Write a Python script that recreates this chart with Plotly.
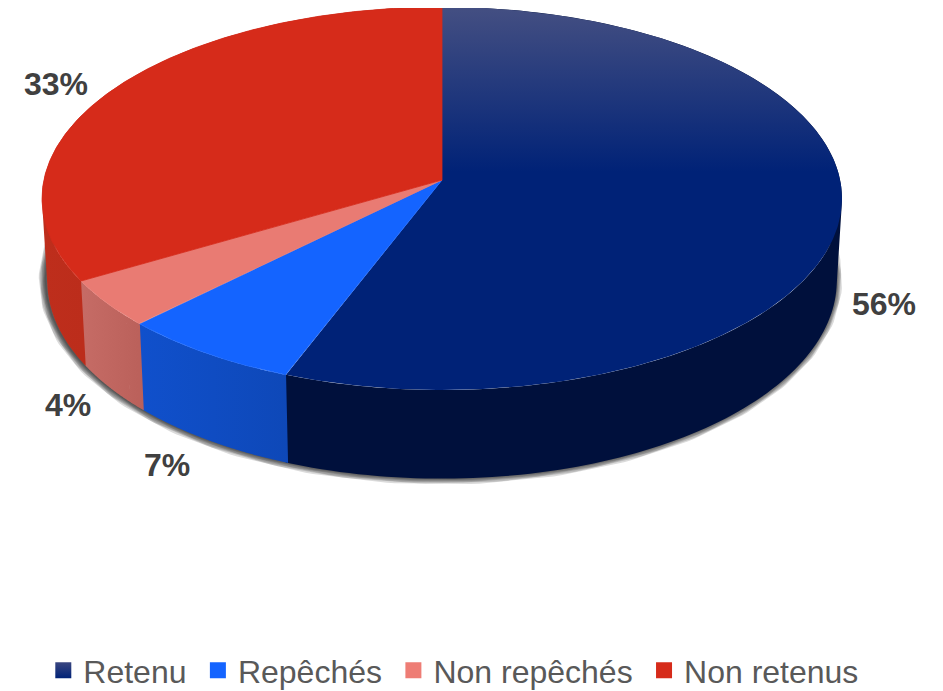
import numpy as np
import plotly.graph_objects as go

# Data
categories = ["Retenu", "Repêchés", "Non repêchés", "Non retenus"]
shares = [55.8, 6.7, 4.05, 33.45]

# Styles
top_colors = ["#002277", "#1464FF", "#E97B73", "#D62B1A"]
wall_left = ["#00103C", "#1050CC", "#C66C66", "#BE2E1C"]
wall_right = ["#00103C", "#0E48B8", "#BA605A", "#AA2414"]
legend_colors = ["#002277", "#1464FF", "#EE7D75", "#D62B1A"]
label_xy = [(884, 307), (167, 468), (68, 408), (56, 87)]

# Projection of the disc
W, H = 943, 691
PAGE_MARGIN = 8  # the page body offsets the plot by this much
CX, CY = 442, 180
K, A, B = 0.0966, 398.1, 189.7
SX, SY, BOTTOM_Y = 0.987, 1.034, 261.5


def project(theta, bottom=False):
    u, v = np.sin(theta), np.cos(theta)
    d = 1 + K * v
    X, Y = A * u / d, B * v / d
    if bottom:
        return CX + SX * X, BOTTOM_Y - SY * Y
    return CX + X, CY - Y


def swept_wall(t):
    """Area swept by the rim between two angles, as same-wound quads in one path."""
    x1, y1 = project(t)
    x2, y2 = project(t, bottom=True)
    xs, ys = [], []
    for j in range(len(t) - 1):
        qx = [x1[j], x1[j + 1], x2[j + 1], x2[j]]
        qy = [y1[j], y1[j + 1], y2[j + 1], y2[j]]
        area = sum(qx[n] * qy[(n + 1) % 4] - qx[(n + 1) % 4] * qy[n] for n in range(4))
        if area < 0:
            qx, qy = qx[::-1], qy[::-1]
        xs += qx + [qx[0], None]
        ys += qy + [qy[0], None]
    return xs, ys


fig = go.Figure()

# soft shadow under the base
circle = np.linspace(0, 2 * np.pi, 361)
sx, sy = project(circle, bottom=True)
for w in [14, 12, 10, 8, 6, 4, 2]:
    fig.add_trace(go.Scatter(x=sx - 1.5, y=sy - 1, mode="lines", showlegend=False, hoverinfo="skip",
                             line=dict(color="rgba(0,0,0,0.14)", width=w)))

edges = 2 * np.pi * np.cumsum([0] + shares) / sum(shares)

# side walls (each runs slightly under the next so no seam shows)
for i in range(len(shares)):
    t = np.linspace(edges[i], edges[i + 1] + 0.006, 160)
    xs, ys = swept_wall(t)
    fig.add_trace(go.Scatter(
        x=xs, y=ys, mode="lines", fill="toself", showlegend=False,
        hoverinfo="skip", line=dict(width=0, simplify=False),
        fillgradient=dict(type="horizontal",
                          colorscale=[[0, wall_left[i]], [1, wall_right[i]]]),
    ))

# top faces
for i in range(len(shares)):
    t = np.linspace(edges[i], edges[i + 1], 300)
    x1, y1 = project(t)
    x = np.r_[CX, x1, CX]
    y = np.r_[CY, y1, CY]
    if i == 0:
        kw = dict(line=dict(width=0),
                  fillgradient=dict(type="vertical", start=7, stop=172,
                                    colorscale=[[0, "#444F82"], [1, "#002277"]]))
    else:
        kw = dict(fillcolor=top_colors[i], line=dict(width=0.8, color=top_colors[i]))
    fig.add_trace(go.Scatter(x=x, y=y, mode="lines", fill="toself", showlegend=False,
                             hoverinfo="skip", **kw))

# labels
fig.add_trace(go.Scatter(
    x=[p[0] for p in label_xy], y=[p[1] for p in label_xy], mode="text",
    text=[f"{s:.0f}%" for s in shares], textposition="middle center", showlegend=False,
    hoverinfo="skip",
    textfont=dict(family="Liberation Sans", size=32, color="#404040", weight="bold"),
))

# legend entries (thin space widens the native gap between entries)
for i, name in enumerate(categories):
    marker = dict(symbol="square", size=17, color=legend_colors[i])
    if i == 0:
        marker["color"] = "#3A4680"
        marker["gradient"] = dict(type="vertical", color="#002277")
    fig.add_trace(go.Scatter(x=[None], y=[None], mode="markers", name=name + "\u2009", marker=marker))

fig.update_layout(
    width=W - PAGE_MARGIN, height=H - PAGE_MARGIN,
    margin=dict(l=0, r=0, t=0, b=0, autoexpand=False),
    paper_bgcolor="white", plot_bgcolor="white",
    xaxis=dict(range=[PAGE_MARGIN, W], visible=False, fixedrange=True),
    yaxis=dict(range=[H, PAGE_MARGIN], visible=False, fixedrange=True),
    legend=dict(orientation="h", x=0.48, xanchor="center", y=-0.0102, yanchor="bottom",
                font=dict(family="Liberation Sans", size=32, color="#595959"),
                itemsizing="trace", traceorder="normal", itemwidth=30, bgcolor="rgba(0,0,0,0)"),
)
fig.write_html("out.html", config=dict(displayModeBar=False))
